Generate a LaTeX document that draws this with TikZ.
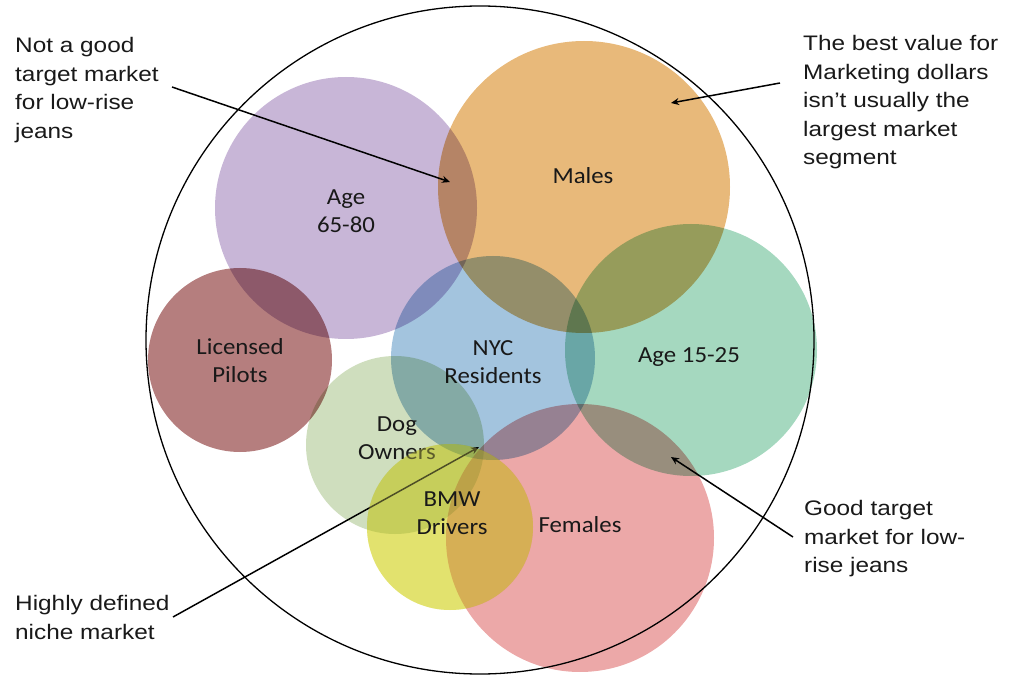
\documentclass[tikz,border=0pt]{standalone}
\usepackage{fontspec}
\newfontfamily\annotfont[FakeStretch=1.16]{Liberation Sans}
\newfontfamily\labelfont[FakeStretch=1.08]{Carlito}
\usetikzlibrary{arrows.meta}
\definecolor{cpurple}{RGB}{200,182,215}
\definecolor{corange}{RGB}{232,185,122}
\definecolor{cmaroon}{RGB}{181,126,126}
\definecolor{cblue}{RGB}{163,196,222}
\definecolor{cgreen}{RGB}{165,216,191}
\definecolor{cdog}{RGB}{207,222,190}
\definecolor{cyellow}{RGB}{226,226,110}
\definecolor{cpink}{RGB}{236,168,168}
\begin{document}
\begin{tikzpicture}[x=1pt,y=-1pt,
  seg/.style={circle, draw=none, inner sep=0, blend mode=multiply},
  lbl/.style={font=\labelfont\fontsize{23}{28}\selectfont, align=center, text=black!90, inner sep=0},
  note/.style={font=\annotfont\fontsize{21}{28.6}\selectfont, align=left, anchor=north west, inner sep=0, text=black!90},
  arr/.style={line width=1.5pt, -{Stealth[length=8pt,width=7pt]}}]
\useasboundingbox (0,0) rectangle (1021,679);
% segments
\node[seg, fill=cpurple, minimum size=262pt] (old) at (346,208) {};
\node[lbl] (oldl) at (346,211) {Age\\65-80};
\node[seg, fill=corange, minimum size=292pt] (males) at (584,187) {};
\node[lbl] (malesl) at (583,176) {Males};
\node[seg, fill=cmaroon, minimum size=184pt] (pilots) at (240,360) {};
\node[lbl] (pilotsl) at (240,361) {Licensed\\Pilots};
\node[seg, fill=cgreen, minimum size=252pt] (young) at (691,350) {};
\node[lbl] (youngl) at (689,357) {Age 15-25};
\node[seg, fill=cblue, minimum size=204pt] (nyc) at (493,358) {};
\node[lbl] (nycl) at (493,362) {NYC\\Residents};
\node[seg, fill=cdog, minimum size=178pt] (dogs) at (395,445) {};
\node[lbl] (dogsl) at (397,438) {Dog\\Owners};
\node[seg, fill=cpink, minimum size=268pt] (females) at (580,538) {};
\node[lbl] (femalesl) at (580,525) {Females};
% niche arrow (under BMW circle)
\node[note, anchor=north west] (niche) at (15,595) {Highly defined\\niche market};
\coordinate (nicheS) at (173,617);
\coordinate (nicheE) at (479,447);
\draw[arr] (nicheS) -- (nicheE);
\node[seg, fill=cyellow, minimum size=166pt] (bmw) at (450,527) {};
\node[circle, draw=none, inner sep=0, fill=cyellow, fill opacity=0.35, minimum size=166pt] (bmwveil) at (bmw) {};
\node[lbl] (bmwl) at (452,513) {BMW\\Drivers};
% outer circle
\node[circle, draw, line width=1.3pt, minimum size=668pt, inner sep=0] (world) at (480,340) {};
% notes
\node[note] (notgood) at (15,37) {Not a good\\target market\\for low-rise\\jeans};
\node[note] (best) at (803,35) {The best value for\\Marketing dollars\\isn’t usually the\\largest market\\segment};
\node[note] (goodt) at (804,500) {Good target\\market for low-\\rise jeans};
\coordinate (ngS) at (172,87);
\coordinate (ngE) at (450,182);
\coordinate (bvS) at (780,83);
\coordinate (bvE) at (671,103);
\coordinate (gtS) at (793,537);
\coordinate (gtE) at (671,457);
\draw[arr] (ngS) -- (ngE);
\draw[arr] (bvS) -- (bvE);
\draw[arr] (gtS) -- (gtE);
\end{tikzpicture}
\end{document}
